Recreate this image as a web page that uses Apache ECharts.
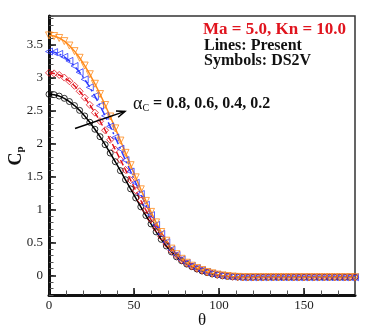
<!DOCTYPE html>
<html>
<head>
<meta charset="utf-8">
<script src="https://cdn.jsdelivr.net/npm/echarts@6/dist/echarts.min.js"></script>
<style>
  html, body { margin: 0; padding: 0; background: #fff; }
  #chart { width: 374px; height: 332px; }
</style>
</head>
<body>
<div id="chart"></div>
<script>
// theta (deg) and Cp for the four accommodation coefficients
const theta = [0, 3, 6, 9, 12, 15, 18, 21, 24, 27, 30, 33, 36, 39, 42, 45, 48, 51, 54, 57,
  60, 63, 66, 69, 72, 75, 78, 81, 84, 87, 90, 93, 96, 99, 102, 105, 108, 111, 114, 117,
  120, 123, 126, 129, 132, 135, 138, 141, 144, 147, 150, 153, 156, 159, 162, 165, 168, 171, 174, 177, 180];

const cp08 = [2.751, 2.744, 2.723, 2.689, 2.640, 2.579, 2.506, 2.421, 2.325, 2.219, 2.106, 1.984, 1.857, 1.725, 1.589, 1.451, 1.313, 1.175, 1.040, 0.908,
  0.780, 0.659, 0.546, 0.445, 0.355, 0.28, 0.22, 0.17, 0.13, 0.095, 0.065, 0.04, 0.02, 0.005, -0.008, -0.017, -0.023, -0.027, -0.03, -0.03,
  -0.03, -0.03, -0.03, -0.03, -0.03, -0.03, -0.03, -0.03, -0.03, -0.03, -0.03, -0.03, -0.03, -0.03, -0.03, -0.03, -0.03, -0.03, -0.03, -0.03, -0.03];
const cp06 = [3.076, 3.068, 3.044, 3.004, 2.949, 2.879, 2.796, 2.699, 2.590, 2.471, 2.341, 2.204, 2.059, 1.910, 1.756, 1.601, 1.445, 1.290, 1.137, 0.989,
  0.847, 0.713, 0.587, 0.475, 0.372, 0.30, 0.23, 0.18, 0.135, 0.10, 0.07, 0.045, 0.025, 0.008, -0.005, -0.015, -0.022, -0.026, -0.03, -0.03,
  -0.03, -0.03, -0.03, -0.03, -0.03, -0.03, -0.03, -0.03, -0.03, -0.03, -0.03, -0.03, -0.03, -0.03, -0.03, -0.03, -0.03, -0.03, -0.03, -0.03, -0.03];
const cp04 = [3.400, 3.391, 3.364, 3.319, 3.258, 3.180, 3.086, 2.977, 2.856, 2.722, 2.577, 2.423, 2.262, 2.094, 1.923, 1.750, 1.576, 1.404, 1.235, 1.071,
  0.914, 0.766, 0.628, 0.503, 0.390, 0.31, 0.24, 0.185, 0.14, 0.105, 0.075, 0.05, 0.025, 0.01, -0.003, -0.013, -0.02, -0.025, -0.03, -0.03,
  -0.03, -0.03, -0.03, -0.03, -0.03, -0.03, -0.03, -0.03, -0.03, -0.03, -0.03, -0.03, -0.03, -0.03, -0.03, -0.03, -0.03, -0.03, -0.03, -0.03, -0.03];
const cp02 = [3.645, 3.635, 3.606, 3.558, 3.491, 3.406, 3.305, 3.187, 3.055, 2.910, 2.754, 2.587, 2.413, 2.232, 2.047, 1.860, 1.673, 1.488, 1.306, 1.130,
  0.963, 0.804, 0.657, 0.525, 0.405, 0.32, 0.25, 0.19, 0.145, 0.11, 0.08, 0.05, 0.03, 0.01, -0.002, -0.012, -0.02, -0.025, -0.03, -0.03,
  -0.03, -0.03, -0.03, -0.03, -0.03, -0.03, -0.03, -0.03, -0.03, -0.03, -0.03, -0.03, -0.03, -0.03, -0.03, -0.03, -0.03, -0.03, -0.03, -0.03, -0.03];

const xTicks = [0, 50, 100, 150];
const yTicks = [0, 0.5, 1, 1.5, 2, 2.5, 3, 3.5];

const serif = 'Liberation Serif';
const pairs = (ys) => theta.map((t, i) => [t, ys[i]]);

// one entry per case: color, line dash, DS2V symbol
const cases = [
  { name: '0.8', data: cp08, color: '#000000', dash: 'solid', symbol: 'circle', rot: 0, size: 6 },
  { name: '0.6', data: cp06, color: '#e0141e', dash: [6, 3], symbol: 'diamond', rot: 0, size: 7 },
  { name: '0.4', data: cp04, color: '#2e3bff', dash: [8, 3, 2, 3], symbol: 'triangle', rot: 90, size: 7 },
  { name: '0.2', data: cp02, color: '#ff8a1a', dash: 'solid', symbol: 'triangle', rot: 180, size: 7 }
];

const series = [];
cases.forEach(function (c) {
  series.push({
    type: 'line', name: c.name + ' present', data: pairs(c.data), showSymbol: false,
    lineStyle: { color: c.color, width: 1.5, type: c.dash }, z: 2, animation: false
  });
});
cases.forEach(function (c) {
  series.push({
    type: 'scatter', name: c.name + ' ds2v', data: pairs(c.data),
    symbol: c.symbol, symbolRotate: c.rot, symbolSize: c.size,
    itemStyle: { color: 'rgba(0,0,0,0)', borderColor: c.color, borderWidth: 1 }, z: 3, animation: false
  });
});

const chart = echarts.init(document.getElementById('chart'), null, { renderer: 'canvas' });

const box = { left: 49, right: 19, top: 16, bottom: 37, outerBoundsMode: 'none', containLabel: false };
const hidden = { axisLine: { show: false, onZero: false }, axisLabel: { show: false }, splitLine: { show: false } };

const option = {
  animation: false,
  backgroundColor: '#fff',
  grid: [
    Object.assign({ show: true, borderColor: '#333', borderWidth: 1.5, backgroundColor: 'transparent' }, box),
    // second grid on the same box only carries the long major ticks
    Object.assign({ show: false }, box)
  ],
  xAxis: [
    {
      gridIndex: 0, type: 'value', min: 0, max: 180, interval: 10, position: 'bottom',
      axisLine: { onZero: false, lineStyle: { color: '#111', width: 3 } },
      axisTick: { inside: true, length: 4.5, lineStyle: { color: '#555', width: 1 } },
      axisLabel: { customValues: xTicks, fontFamily: serif, fontSize: 13, color: '#222', margin: 4 },
      splitLine: { show: false }
    },
    Object.assign({
      gridIndex: 1, type: 'value', min: 0, max: 180, position: 'bottom',
      axisTick: { customValues: xTicks, inside: true, length: 7, lineStyle: { color: '#111', width: 1.5 } }
    }, hidden)
  ],
  yAxis: [
    {
      gridIndex: 0, type: 'value', min: -0.3, max: 3.94, interval: 0.1, position: 'left',
      axisLine: { onZero: false, lineStyle: { color: '#111', width: 3 } },
      axisTick: { inside: true, length: 4.5, lineStyle: { color: '#555', width: 1 } },
      axisLabel: { customValues: yTicks, fontFamily: serif, fontSize: 13, color: '#222', margin: 6 },
      splitLine: { show: false }
    },
    Object.assign({
      gridIndex: 1, type: 'value', min: -0.3, max: 3.94, position: 'left',
      axisTick: { customValues: yTicks, inside: true, length: 7, lineStyle: { color: '#111', width: 1.5 } }
    }, hidden)
  ],
  series: series
};
chart.setOption(option);

// annotations
const arrowFrom = chart.convertToPixel({ xAxisIndex: 0, yAxisIndex: 0 }, [15.3, 2.23]);
const arrowTo = chart.convertToPixel({ xAxisIndex: 0, yAxisIndex: 0 }, [44.7, 2.49]);
const ang = Math.atan2(arrowTo[1] - arrowFrom[1], arrowTo[0] - arrowFrom[0]);
const head = 9, spread = 0.38;
const h1 = [arrowTo[0] - head * Math.cos(ang - spread), arrowTo[1] - head * Math.sin(ang - spread)];
const h2 = [arrowTo[0] - head * Math.cos(ang + spread), arrowTo[1] - head * Math.sin(ang + spread)];

chart.setOption({
  graphic: [
    { type: 'line', shape: { x1: arrowFrom[0], y1: arrowFrom[1], x2: arrowTo[0], y2: arrowTo[1] }, style: { stroke: '#000', lineWidth: 1.5 }, z: 10 },
    { type: 'polyline', shape: { points: [h1, arrowTo, h2] }, style: { stroke: '#000', lineWidth: 1.5, fill: null }, z: 10 },
    {
      type: 'text', left: 133, top: 95, z: 10,
      style: {
        text: '{a|α}{s|C}{b| = 0.8, 0.6, 0.4, 0.2}',
        rich: {
          a: { fontFamily: serif, fontSize: 18, fill: '#111' },
          s: { fontFamily: serif, fontSize: 10, fill: '#111', padding: [9, 0, 0, 0] },
          b: { fontFamily: serif, fontSize: 16, fontWeight: 'bold', fill: '#111' }
        }
      }
    },
    { type: 'text', left: 203, top: 21, z: 10, style: { text: 'Ma = 5.0, Kn = 10.0', font: 'bold 17px "Liberation Serif"', fill: '#e0141e' } },
    { type: 'text', left: 204, top: 38, z: 10, style: { text: 'Lines: Present', font: 'bold 16px "Liberation Serif"', fill: '#111' } },
    { type: 'text', left: 204, top: 53, z: 10, style: { text: 'Symbols: DS2V', font: 'bold 16px "Liberation Serif"', fill: '#111' } },
    // axis titles
    {
      type: 'text', x: 16, y: 156, rotation: Math.PI / 2, z: 10,
      style: {
        text: '{c|C}{s|p}', align: 'center', verticalAlign: 'middle',
        rich: {
          c: { fontFamily: serif, fontSize: 18, fontWeight: 'bold', fill: '#111' },
          s: { fontFamily: serif, fontSize: 11, fontWeight: 'bold', fill: '#111', padding: [8, 0, 0, 0] }
        }
      }
    },
    { type: 'text', x: 202, y: 321, z: 10, style: { text: 'θ', align: 'center', verticalAlign: 'middle', font: '17px "Liberation Serif"', fill: '#111' } }
  ]
});
</script>
</body>
</html>
